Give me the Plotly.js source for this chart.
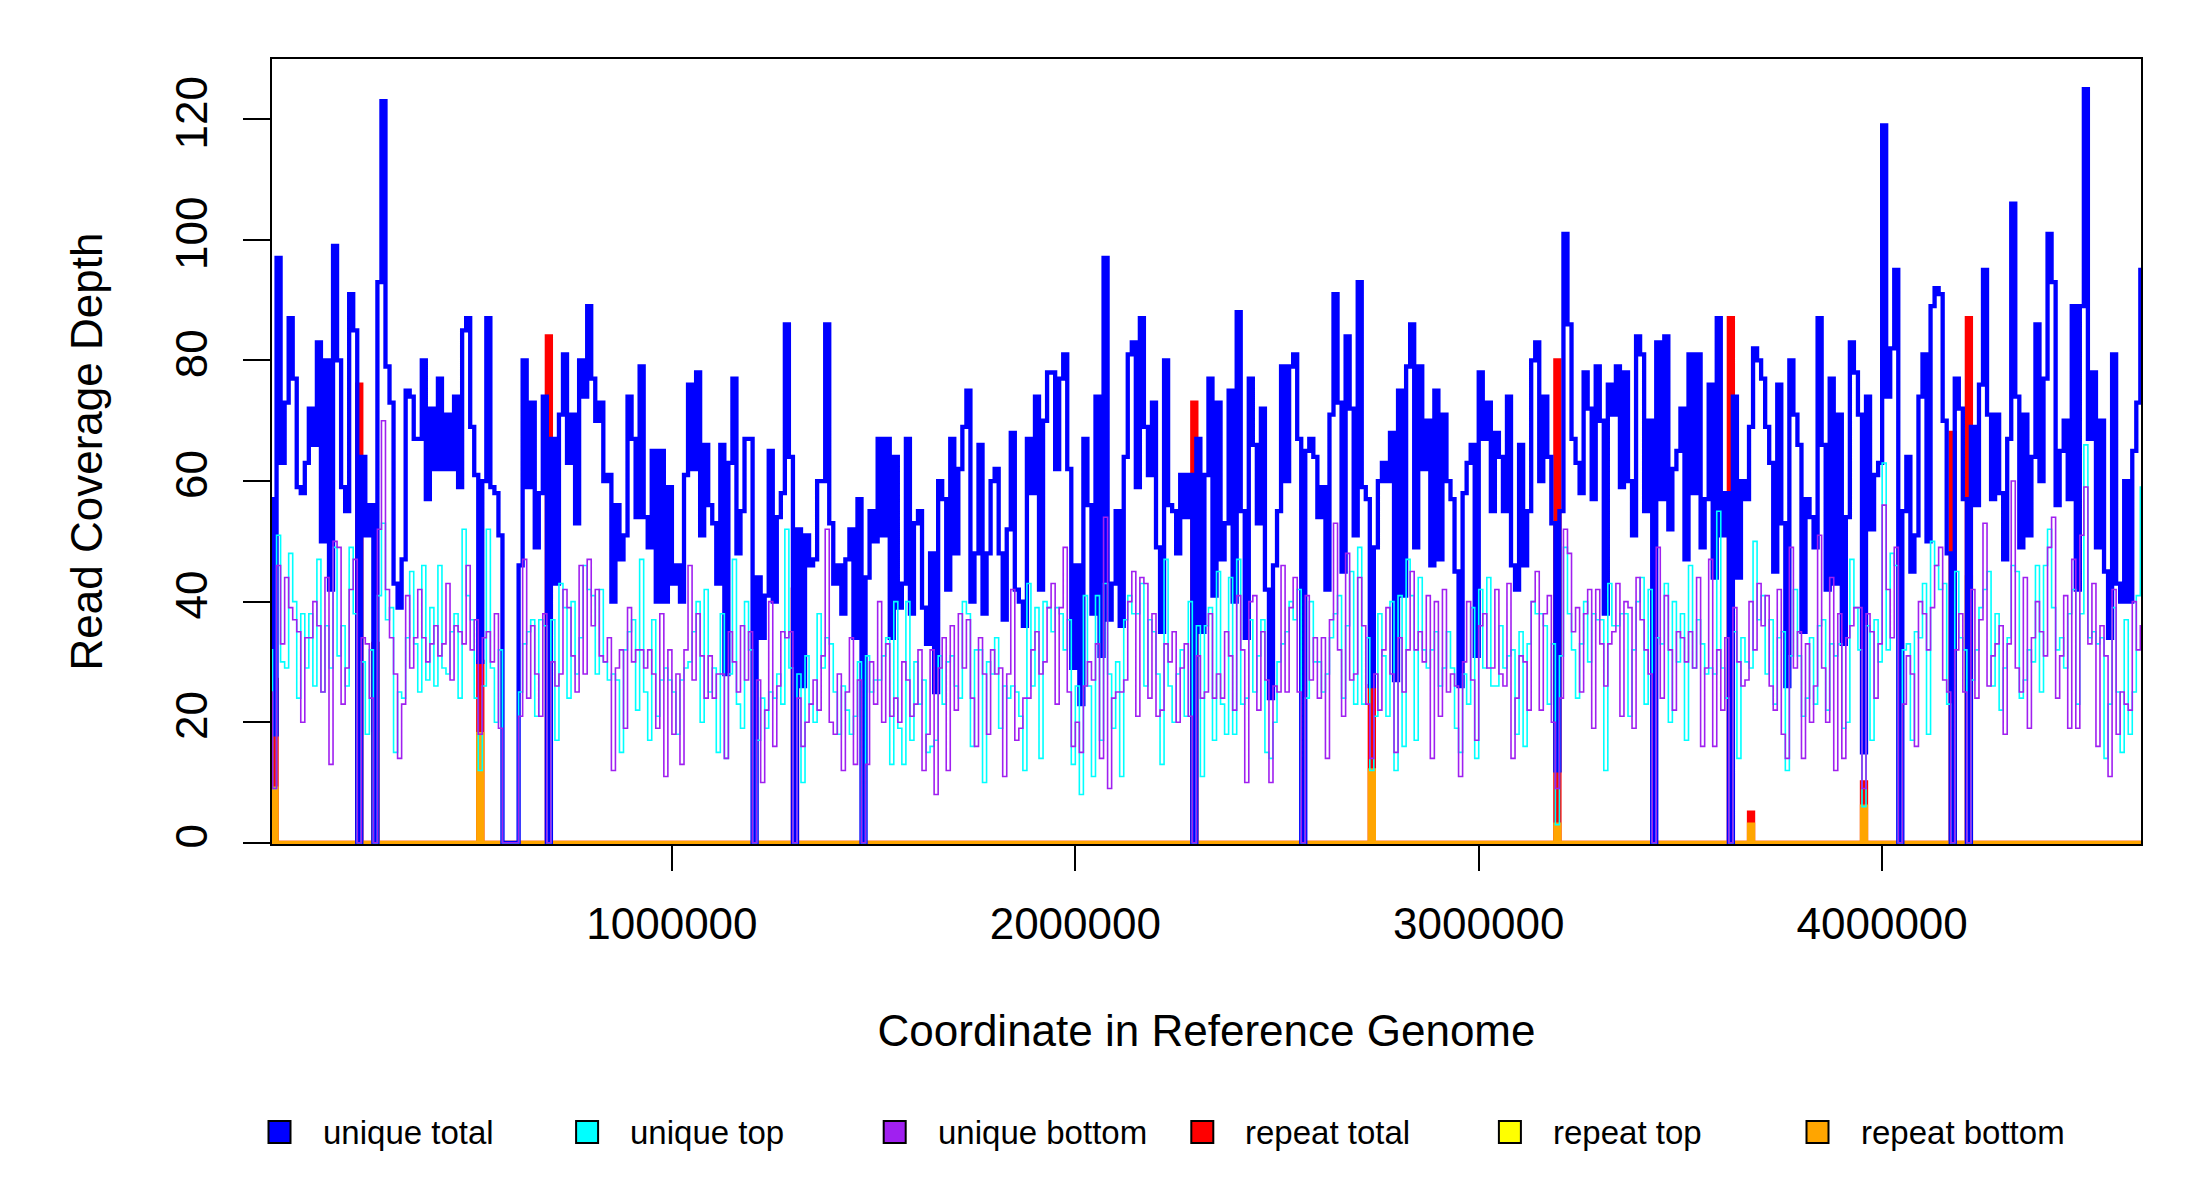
<!DOCTYPE html>
<html><head><meta charset="utf-8">
<script src="https://cdn.plot.ly/plotly-3.0.1.min.js"></script>
<style>html,body{margin:0;padding:0;background:#fff}</style>
</head><body><div id="chart" style="width:2200px;height:1200px"></div>
<script>
const GENOME_LENGTH = 4641652;
const BIN_SIZE = 10000;
const xTickValues = [1000000, 2000000, 3000000, 4000000];
const xTickLabels = ["1000000", "2000000", "3000000", "4000000"];
const yTickValues = [0, 20, 40, 60, 80, 100, 120];
const yTickLabels = ["0", "20", "40", "60", "80", "100", "120"];
const xAxisTitle = "Coordinate in Reference Genome";
const yAxisTitle = "Read Coverage Depth";

const uniqueTotal = [
57,18,97,63,73,87,77,59,58,63, 72,66,83,50,80,42,99,80,59,55,
91,85,0,64,51,56,0,93,123,79, 73,43,39,47,75,74,67,67,80,57,
72,62,77,62,71,62,74,59,85,87, 69,61,30,60,87,59,58,51,0,0,
0,0,46,80,59,73,49,58,74,0, 67,43,71,81,63,71,53,80,74,89,
77,70,73,60,61,40,56,47,51,74, 67,54,79,54,49,65,40,65,40,59,
43,46,40,61,76,62,78,51,66,56, 53,43,66,28,63,77,48,55,67,67,
0,44,34,41,65,40,54,58,86,64, 0,52,26,51,46,47,60,60,86,53,
43,46,38,47,52,34,57,0,44,55, 50,67,51,67,34,64,39,43,67,38,
53,55,39,33,48,25,60,57,42,67, 48,62,69,75,40,48,66,38,48,60,
62,48,37,52,68,42,40,36,67,58, 74,42,70,78,78,62,77,81,62,29,
46,23,67,56,38,74,31,97,37,43, 55,36,64,81,83,59,87,69,61,73,
49,35,80,56,55,48,61,54,61,0, 67,35,61,77,41,73,47,53,75,40,
88,55,34,77,66,53,72,42,24,46, 55,79,60,79,81,67,0,65,67,64,
54,59,42,71,91,73,45,84,72,51, 93,59,57,26,49,60,63,60,68,27,
75,41,79,86,49,79,62,70,46,75, 47,71,60,57,45,26,58,63,66,31,
78,67,73,55,68,64,55,74,46,42, 66,46,55,80,83,60,74,64,53,12,
55,101,86,67,63,58,78,72,57,79, 70,38,76,71,79,59,78,60,51,84,
81,55,70,0,83,57,84,52,62,65, 72,47,81,58,81,49,57,76,44,87,
51,58,0,74,44,60,57,69,82,80, 77,69,63,45,76,53,26,80,71,66,
35,57,54,49,87,66,42,77,43,71, 33,54,83,78,71,15,74,52,61,63,
119,74,82,95,0,55,64,45,51,74, 81,50,89,92,91,70,48,0,77,72,
57,0,69,56,76,95,71,57,71,58, 47,67,106,74,49,71,51,64,86,60,
77,101,93,56,65,70,57,89,42,89, 125,67,78,49,70,45,34,81,43,40,
60,40,65,73,95
];

const uniqueTop = [
32,9,51,30,29,48,40,24,38,29, 38,26,47,25,36,29,49,31,36,26,
49,38,0,30,18,32,0,41,53,37, 39,15,25,24,34,45,33,25,46,27,
39,26,46,29,28,35,38,24,52,41, 37,24,12,26,52,29,20,32,0,0,
0,0,25,33,35,37,21,37,36,0, 37,17,43,39,24,40,28,34,46,42,
41,28,42,30,27,28,27,15,32,35, 37,22,47,25,17,37,21,27,29,27,
25,18,27,29,30,35,40,20,42,25, 29,15,38,14,28,47,23,19,40,32,
0,17,24,19,25,24,28,23,52,29, 0,28,10,31,23,20,38,29,34,33,
25,18,26,22,18,21,30,0,31,25, 27,27,31,34,13,40,19,13,40,17,
30,23,27,15,16,17,31,23,30,31, 26,24,40,38,16,32,32,10,30,28,
34,19,26,24,26,25,21,12,43,26, 39,14,40,39,35,39,38,32,37,13,
26,8,41,26,11,41,17,43,28,19, 30,11,37,41,38,38,43,26,37,35,
28,13,47,26,20,28,32,21,40,0, 36,11,36,39,17,45,23,18,44,18,
47,23,24,37,25,31,37,15,14,20, 30,33,35,40,37,42,0,24,40,30,
30,25,28,34,38,41,24,36,45,23, 49,23,34,12,21,38,31,21,40,12,
41,16,47,41,17,44,32,29,32,35, 26,29,35,29,19,15,28,23,39,14,
42,29,44,26,26,36,29,31,32,18, 35,16,33,40,38,38,36,23,33,3,
31,49,38,32,24,33,40,30,38,37, 37,12,43,36,36,38,38,21,32,40,
44,23,42,0,34,33,43,20,40,30, 38,17,46,29,37,33,28,29,28,55,
29,24,0,35,14,34,30,29,50,37, 41,28,37,23,34,35,12,31,42,31,
21,24,34,23,36,37,22,33,31,33, 19,20,47,39,32,6,36,17,37,30,
63,32,48,46,0,32,33,17,35,34, 43,18,50,46,42,43,23,0,45,34,
32,0,27,32,39,42,45,26,38,22, 29,34,46,45,24,27,32,30,46,25,
46,52,39,32,34,29,38,42,23,38, 66,34,35,33,34,14,23,39,25,15,
37,18,25,41,59
];

const uniqueBottom = [
25,9,46,33,44,39,37,35,20,34, 34,40,36,25,44,13,50,49,23,29,
42,47,0,34,33,24,0,52,70,42, 34,28,14,23,41,29,34,42,34,30,
33,36,31,33,43,27,36,35,33,46, 32,37,18,34,35,30,38,19,0,0,
0,0,21,47,24,36,28,21,38,0, 30,26,28,42,39,31,25,46,28,47,
36,42,31,30,34,12,29,32,19,39, 30,32,32,29,32,28,19,38,11,32,
18,28,13,32,46,27,38,31,24,31, 24,28,28,14,35,30,25,36,27,35,
0,27,10,22,40,16,26,35,34,35, 0,24,16,20,23,27,22,31,52,20,
18,28,12,25,34,13,27,0,13,30, 23,40,20,33,21,24,20,30,27,21,
23,32,12,18,32,8,29,34,12,36, 22,38,29,37,24,16,34,28,18,32,
28,29,11,28,42,17,19,24,24,32, 35,28,30,39,43,23,39,49,25,16,
20,15,26,30,27,33,14,54,9,24, 25,25,27,40,45,21,44,43,24,38,
21,22,33,30,35,20,29,33,21,0, 31,24,25,38,24,28,24,35,31,22,
41,32,10,40,41,22,35,27,10,26, 25,46,25,39,44,25,0,41,27,34,
24,34,14,37,53,32,21,48,27,28, 44,36,23,14,28,22,32,39,28,15,
34,25,32,45,32,35,30,41,14,40, 21,42,25,28,26,11,30,40,27,17,
36,38,29,29,42,28,26,43,14,24, 31,30,22,40,45,22,38,41,20,9,
24,52,48,35,39,25,38,42,19,42, 33,26,33,35,43,21,40,39,19,44,
37,32,28,0,49,24,41,32,22,35, 34,30,35,29,44,16,29,47,16,32,
22,34,0,39,30,26,27,40,32,43, 36,41,26,22,42,18,14,49,29,35,
14,33,20,26,51,29,20,44,12,38, 14,34,36,39,39,9,38,35,24,33,
56,42,34,49,0,23,31,28,16,40, 38,32,39,46,49,27,25,0,32,38,
25,0,42,24,37,53,26,31,33,36, 18,33,60,29,25,44,19,34,40,35,
31,49,54,24,31,41,19,47,19,51, 59,33,43,16,36,31,11,42,18,25,
23,22,40,32,36
];

// repeat coverage is zero everywhere except these bins
const repeatBins   = [1, 22, 26, 52, 69, 130, 229, 273, 319, 362, 367, 395, 417, 421];
const repeatTotal  = [27, 76, 33, 30, 84, 42, 73, 26, 80, 87, 5, 10, 68, 87];
const repeatTop    = [18, 76, 15, 12, 84, 42, 73, 14, 77, 87, 2, 4, 68, 43];
const repeatBottom = [9, 0, 18, 18, 0, 0, 0, 12, 3, 0, 3, 6, 0, 44];

const seriesNames = ["unique total", "unique top", "unique bottom", "repeat total", "repeat top", "repeat bottom"];
const seriesColors = ["#0000FF", "#00FFFF", "#A020F0", "#FF0000", "#FFFF00", "#FFA500"];
const seriesWidths = [4.3, 1.6, 1.6, 4.3, 1.6, 4.3];

// ---- build step series ----
const nBins = uniqueTotal.length;
const binStarts = uniqueTotal.map((_, i) => i * BIN_SIZE);
const xs = binStarts.concat([GENOME_LENGTH]);
function expandRepeat(vals) {
  const arr = new Array(nBins).fill(0);
  repeatBins.forEach((b, k) => { arr[b] = vals[k]; });
  return arr;
}
function stepY(vals) { return vals.concat([vals[vals.length - 1]]); }

const seriesValues = [uniqueTotal, uniqueTop, uniqueBottom,
  expandRepeat(repeatTotal), expandRepeat(repeatTop), expandRepeat(repeatBottom)];

// drawing order: repeat top, repeat total, repeat bottom, unique total, unique top, unique bottom
const drawOrder = [4, 3, 5, 0, 1, 2];
const traces = drawOrder.map(k => ({
  type: "scatter", mode: "lines", name: seriesNames[k],
  x: xs, y: stepY(seriesValues[k]),
  line: { shape: "hv", color: seriesColors[k], width: seriesWidths[k] },
  showlegend: false, hoverinfo: "skip"
}));

// ---- manual legend (square keys) ----
const PLOT_L = 272, PLOT_R = 2141, PLOT_T = 59, PLOT_B = 844;
const legendFirstPx = 279.5, legendStepPx = 307.6, legendYPx = 1132, legendTextGap = 41;
const pxToPaperX = px => (px - PLOT_L) / (PLOT_R - PLOT_L);
const pxToPaperY = py => (PLOT_B - py) / (PLOT_B - PLOT_T);
const shapes = [], annotations = [];
seriesNames.forEach((name, k) => {
  const cx = legendFirstPx + k * legendStepPx;
  shapes.push({
    type: "rect", xref: "paper", yref: "paper",
    xsizemode: "pixel", ysizemode: "pixel",
    xanchor: pxToPaperX(cx), yanchor: pxToPaperY(legendYPx),
    x0: -11, x1: 11, y0: -11, y1: 11,
    fillcolor: seriesColors[k], line: { color: "#000", width: 2 }
  });
  annotations.push({
    xref: "paper", yref: "paper", x: pxToPaperX(cx + legendTextGap), y: pxToPaperY(legendYPx),
    xanchor: "left", yanchor: "middle", showarrow: false, text: name,
    font: { size: 33, color: "#000" }
  });
});

const layout = {
  width: 2200, height: 1200,
  margin: { l: PLOT_L, r: 2200 - PLOT_R, t: PLOT_T, b: 1200 - PLOT_B, pad: 0 },
  paper_bgcolor: "#fff", plot_bgcolor: "#fff",
  font: { family: "Liberation Sans, Arial, sans-serif", color: "#000" },
  showlegend: false,
  xaxis: {
    range: [8700, GENOME_LENGTH], autorange: false,
    tickmode: "array", tickvals: xTickValues, ticktext: xTickLabels,
    ticks: "outside", ticklen: 25, tickwidth: 2, tickcolor: "#000",
    tickfont: { size: 44 }, ticklabelstandoff: 15,
    showgrid: false, zeroline: false,
    showline: true, linecolor: "#000", linewidth: 2, mirror: true,
    layer: "below traces", automargin: false,
    title: { text: xAxisTitle, font: { size: 44 }, standoff: 68 }
  },
  yaxis: {
    range: [-0.2, 130], autorange: false,
    tickmode: "array", tickvals: yTickValues, ticktext: yTickLabels,
    ticks: "outside", ticklen: 27, tickwidth: 2, tickcolor: "#000",
    tickangle: -90, tickfont: { size: 44 }, ticklabelstandoff: 18,
    showgrid: false, zeroline: false,
    showline: true, linecolor: "#000", linewidth: 2, mirror: true,
    layer: "below traces", automargin: false,
    title: { text: yAxisTitle, font: { size: 44 }, standoff: 51 }
  },
  shapes: shapes,
  annotations: annotations
};

Plotly.newPlot("chart", traces, layout, { staticPlot: true, displayModeBar: false });
</script>
</body></html>
